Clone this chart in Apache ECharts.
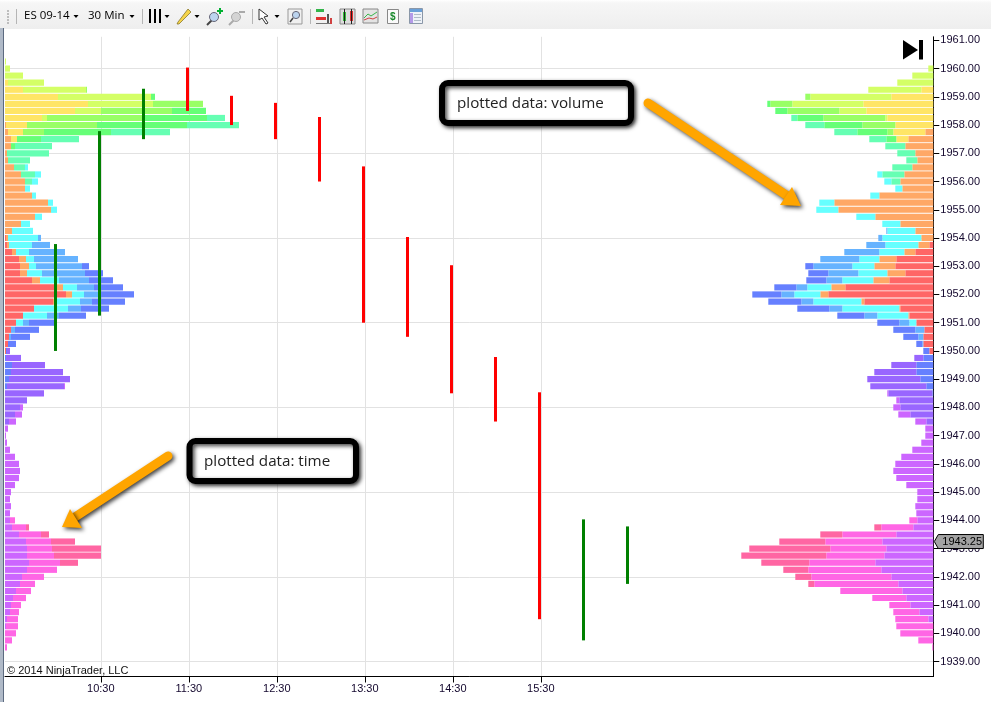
<!DOCTYPE html>
<html><head><meta charset="utf-8">
<style>html,body{margin:0;padding:0;background:#fff}#c{width:991px;height:702px}</style>
<script src="https://cdn.jsdelivr.net/npm/echarts@6/dist/echarts.min.js"></script>
</head><body><div id="c"></div>
<script>
// ---- price levels (0.25 tick) and axis ticks
const levelLow = 1938.5, levelHigh = 1961, tickSize = 0.25;
const priceTicks = [1939,1940,1941,1942,1943,1944,1945,1946,1947,1948,1949,1950,1951,1952,1953,1954,1955,1956,1957,1958,1959,1960,1961];
const priceGrid = [1939,1942,1945,1948,1951,1954,1957,1960];
const timeTicks = ['10:30','11:30','12:30','13:30','14:30','15:30'];
const lastPrice = 1943.25;

// ---- OHLC bars: time, high, low, direction
const barTimes = ['10:00','10:30','11:00','11:30','12:00','12:30','13:00','13:30','14:00','14:30','15:00','15:30','16:00','16:30'];
const barHighs = [1953.75,1957.75,1959.25,1960,1959,1958.75,1958.25,1956.5,1954,1953,1949.75,1948.5,1944,1943.75];
const barLows  = [1950,1951.25,1957.5,1958.5,1958,1957.5,1956,1951,1950.5,1948.5,1947.5,1940.5,1939.75,1941.75];
const barUp    = [1,1,1,0,0,0,0,0,0,0,0,0,1,1];

// ---- profile colours (stack order from the base outwards)
const colorNames = ['red','orange','yellow','lime','light','green','mint','cyan','blue','indigo','purple','magenta','pink','hot'];
const colorValues = ['#FF6666','#FFA866','#FFE566','#D4FF66','#99FF66','#66FF77','#66FFB3','#66FFFF','#66B3FF','#6680FF','#9966FF','#CC66FF','#FF66E5','#FF66A3'];

// ---- "plotted data: time" profile, [price, size]
const timeRed=[[1954,1],[1953.75,2],[1953.5,7],[1953.25,14],[1953,15],[1952.75,15],[1952.5,27],[1952.25,52],[1952,61],[1951.75,48],[1951.5,29],[1951.25,18],[1951,11],[1950.75,6],[1950.5,4],[1950.25,3],[1950,1]];
const timeOrange=[[1958,1],[1957.75,3],[1957.5,6],[1957.25,6],[1957,2],[1956.75,3],[1956.5,9],[1956.25,16],[1956,20],[1955.75,20],[1955.5,27],[1955.25,43],[1955,46],[1954.75,30],[1954.5,16],[1954.25,7],[1954,2],[1953.75,2],[1953.5,4],[1953.25,7],[1953,9],[1952.75,7],[1952.5,8],[1952.25,6],[1952,6],[1951.75,1]];
const timeYellow=[[1959.5,3],[1959.25,18],[1959,53],[1958.75,83],[1958.5,70],[1958.25,37],[1958,21],[1957.75,15],[1957.5,6]];
const timeLime=[[1960.25,1],[1960,5],[1959.75,18],[1959.5,36],[1959.25,63],[1959,93],[1958.75,65],[1958.5,26],[1958.25,5]];
const timeLight=[[1959.25,1],[1958.75,50],[1958.5,71],[1958.25,96],[1958,70],[1957.75,21]];
const timeGreen=[[1959,4],[1958.5,34],[1958.25,64],[1958,90],[1957.75,67],[1957.5,24],[1957.25,4]];
const timeMint=[[1958.25,18],[1958,52],[1957.75,59],[1957.5,38],[1957.25,37],[1957,42],[1956.75,22],[1956.5,11],[1956.25,14],[1956,7]];
const timeCyan=[[1956.5,3],[1956.25,6],[1956,6],[1955.75,5],[1955.5,4],[1955.25,5],[1955,6],[1954.75,7],[1954.5,9],[1954.25,21],[1954,30],[1953.75,23],[1953.5,13],[1953.25,8],[1953,7],[1952.75,15],[1952.5,19],[1952.25,14],[1952,12],[1951.75,26],[1951.5,34],[1951.25,24],[1951,7]];
const timeBlue=[[1954,3],[1953.75,18],[1953.5,36],[1953.25,44],[1953,46],[1952.75,43],[1952.5,30],[1952.25,17],[1952,17],[1951.75,12],[1951.5,13],[1951.25,12],[1951,6],[1950.75,4],[1950.5,2]];
const timeIndigo=[[1953,7],[1952.75,18],[1952.5,24],[1952.25,29],[1952,33],[1951.75,33],[1951.5,28],[1951.25,27],[1951,25],[1950.75,24],[1950.5,19],[1950.25,8],[1950,1],[1949.75,1],[1949.5,7],[1949.25,6],[1949,4],[1948.75,2]];
const timePurple=[[1950,3],[1949.75,15],[1949.5,33],[1949.25,52],[1949,61],[1948.75,57],[1948.5,39],[1948.25,22],[1948,15],[1947.75,10],[1947.5,4]];
const timeMagenta=[[1948.75,1],[1948,3],[1947.75,7],[1947.5,7],[1947.25,3],[1947,1],[1946.75,2],[1946.5,5],[1946.25,10],[1946,14],[1945.75,15],[1945.5,14],[1945.25,10],[1945,6],[1944.75,5],[1944.5,6],[1944.25,5],[1944,5],[1943.75,7],[1943.5,14],[1943.25,21],[1943,22],[1942.75,22],[1942.5,24],[1942.25,22],[1942,17],[1941.75,15],[1941.5,11],[1941.25,8],[1941,6],[1940.75,5],[1940.5,2],[1940.25,1]];
const timePink=[[1944,5],[1943.75,14],[1943.5,22],[1943.25,25],[1943,25],[1942.75,27],[1942.5,31],[1942.25,30],[1942,22],[1941.75,15],[1941.5,15],[1941.25,13],[1941,10],[1940.75,9],[1940.5,11],[1940.25,12],[1940,11],[1939.75,7],[1939.5,2]];
const timeHot=[[1943.75,3],[1943.5,8],[1943.25,24],[1943,49],[1942.75,47],[1942.5,18]];

// ---- "plotted data: volume" profile, [price, size]
const volRed=[[1953.75,4],[1953.5,18],[1953.25,37],[1953,38],[1952.75,28],[1952.5,44],[1952.25,88],[1952,105],[1951.75,69],[1951.5,33],[1951.25,24],[1951,17],[1950.75,9],[1950.5,10],[1950.25,10],[1950,4]];
const volOrange=[[1957.75,8],[1957.5,25],[1957.25,28],[1957,18],[1956.75,16],[1956.5,21],[1956.25,29],[1956,33],[1955.75,31],[1955.5,54],[1955.25,99],[1955,95],[1954.75,58],[1954.5,33],[1954.25,18],[1954,12],[1953.75,11],[1953.5,11],[1953.25,17],[1953,21],[1952.75,18],[1952.5,16],[1952.25,14],[1952,8],[1951.75,3],[1951.5,1],[1951.25,1]];
const volYellow=[[1959.25,12],[1959,42],[1958.75,70],[1958.5,67],[1958.25,46],[1958,38],[1957.75,32],[1957.5,12]];
const volLime=[[1960,5],[1959.75,21],[1959.5,36],[1959.25,53],[1959,81],[1958.75,71],[1958.5,27],[1958.25,2]];
const volLight=[[1959,5],[1958.75,22],[1958.5,52],[1958.25,62],[1958,33],[1957.75,6]];
const volGreen=[[1958.75,3],[1958.5,12],[1958.25,26],[1958,38],[1957.75,30],[1957.5,10]];
const volMint=[[1958.25,6],[1958,19],[1957.75,23],[1957.5,17],[1957.25,20],[1957,18],[1956.75,11],[1956.5,20],[1956.25,22],[1956,9]];
const volCyan=[[1956.25,5],[1956,7],[1955.75,7],[1955.5,9],[1955.25,15],[1955,22],[1954.75,19],[1954.5,18],[1954.25,28],[1954,39],[1953.75,33],[1953.5,25],[1953.25,20],[1953,22],[1952.75,29],[1952.5,31],[1952.25,24],[1952,26],[1951.75,48],[1951.5,57],[1951.25,31],[1951,7]];
const volBlue=[[1954.25,1],[1954,4],[1953.75,19],[1953.5,35],[1953.25,39],[1953,39],[1952.75,30],[1952.5,16],[1952.25,11],[1952,13],[1951.75,12],[1951.5,13],[1951.25,13],[1951,10],[1950.75,9],[1950.5,5],[1950.25,1]];
const volIndigo=[[1953,8],[1952.75,20],[1952.5,20],[1952.25,22],[1952,29],[1951.75,33],[1951.5,32],[1951.25,27],[1951,22],[1950.75,22],[1950.5,15],[1950.25,6],[1950,6],[1949.75,10],[1949.5,17],[1949.25,17],[1949,13],[1948.75,7],[1948.5,1]];
const volPurple=[[1949.75,9],[1949.5,25],[1949.25,42],[1949,53],[1948.75,56],[1948.5,44],[1948.25,34],[1948,33],[1947.75,23],[1947.5,7]];
const volMagenta=[[1948.5,1],[1948.25,3],[1948,7],[1947.75,12],[1947.5,11],[1947.25,8],[1947,8],[1946.75,12],[1946.5,21],[1946.25,32],[1946,38],[1945.75,40],[1945.5,37],[1945.25,27],[1945,16],[1944.75,16],[1944.5,18],[1944.25,17],[1944,16],[1943.75,20],[1943.5,37],[1943.25,51],[1943,47],[1942.75,49],[1942.5,58],[1942.25,52],[1942,42],[1941.75,35],[1941.5,31],[1941.25,27],[1941,23],[1940.75,14],[1940.5,5]];
const volPink=[[1944,8],[1943.75,32],[1943.5,54],[1943.25,57],[1943,56],[1942.75,58],[1942.5,66],[1942.25,73],[1942,80],[1941.75,84],[1941.5,62],[1941.25,34],[1941,21],[1940.75,26],[1940.5,33],[1940.25,37],[1940,33],[1939.75,15],[1939.5,1]];
const volHot=[[1943.75,7],[1943.5,22],[1943.25,46],[1943,81],[1942.75,85],[1942.5,48],[1942.25,25],[1942,16],[1941.75,6]];

const timeProfile = [timeRed,timeOrange,timeYellow,timeLime,timeLight,timeGreen,timeMint,timeCyan,timeBlue,timeIndigo,timePurple,timeMagenta,timePink,timeHot];
const volProfile = [volRed,volOrange,volYellow,volLime,volLight,volGreen,volMint,volCyan,volBlue,volIndigo,volPurple,volMagenta,volPink,volHot];

const levels = [];
for (let p = levelLow; p <= levelHigh; p += tickSize) levels.push(p);
const expand = pairs => { const m = new Map(pairs); return levels.map(p => m.has(p) ? m.get(p) : 0); };
const toMin = s => { const [h,m] = s.split(':').map(Number); return h*60+m; };
const fmtMin = v => { const h = Math.floor(v/60), m = v%60; return h+':'+String(m).padStart(2,'0'); };

// layout
const G = {left:5, top:36.8, width:928.3, height:642.4};
const pxPerMin = 44/30;
const tMin = 630 - 95.8/pxPerMin, tMax = tMin + G.width/pxPerMin;
const labelFont = {fontFamily:'Liberation Sans', fontSize:11, color:'#14082e'};

const series = [];
colorNames.forEach((n,i) => {
  series.push({name:'time-'+n, type:'bar', stack:'time', xAxisIndex:1, yAxisIndex:0, barWidth:6.2, barGap:'-100%', silent:true, animation:false,
    itemStyle:{color:colorValues[i]}, data:expand(timeProfile[i]), z:3});
  series.push({name:'vol-'+n, type:'bar', stack:'vol', xAxisIndex:2, yAxisIndex:0, barWidth:6.2, barGap:'-100%', silent:true, animation:false,
    itemStyle:{color:colorValues[i]}, data:expand(volProfile[i]), z:3});
});
series.push({name:'bars', type:'custom', xAxisIndex:0, yAxisIndex:1, z:6, animation:false, silent:true,
  encode:{x:0,y:[1,2]},
  data:barTimes.map((t,i)=>[toMin(t),barHighs[i],barLows[i],barUp[i]]),
  renderItem:(p,api)=>{
    const a = api.coord([api.value(0),api.value(1)]), b = api.coord([api.value(0),api.value(2)]);
    return {type:'rect', shape:{x:a[0]-2.8, y:a[1]-1, width:3, height:b[1]-a[1]+1},
      style:{fill: api.value(3) ? '#008000' : '#FF0000'}};
  }});
series.push({name:'last', type:'custom', xAxisIndex:0, yAxisIndex:1, z:8, clip:false, animation:false, silent:true,
  data:[[tMax,lastPrice]],
  renderItem:(p,api)=>{
    const c = api.coord([api.value(0),api.value(1)]), x=c[0]+1, y=c[1];
    return {type:'group', children:[
      {type:'polygon', shape:{points:[[x,y],[x+4,y-7],[x+49,y-7],[x+49,y+7],[x+4,y+7]]}, style:{fill:'#a3a3a3',stroke:'#000',lineWidth:1}},
      {type:'text', style:{x:x+8,y:y+.5,text:lastPrice.toFixed(2),fill:'#000',font:'11px "Liberation Sans"',textVerticalAlign:'middle'}}
    ]};
  }});

// ---- decoration
const g = [];
const rect=(x,y,w,h,fill,extra={})=>g.push({type:'rect',shape:{x,y,width:w,height:h,r:extra.r||0},style:{fill,stroke:extra.stroke,lineWidth:extra.lw||1},z:20,silent:true});
const line=(x1,y1,x2,y2,stroke,lw=1,cap='butt')=>g.push({type:'line',shape:{x1,y1,x2,y2},style:{stroke,lineWidth:lw,lineCap:cap},z:20,silent:true});
const poly=(pts,fill,extra={})=>g.push({type:'polygon',shape:{points:pts},style:Object.assign({fill},extra),z:20,silent:true});
const circ=(cx,cy,r,fill,stroke,lw=1)=>g.push({type:'circle',shape:{cx,cy,r},style:{fill,stroke,lineWidth:lw},z:20,silent:true});
const text=(x,y,t,font,fill)=>g.push({type:'text',x,y,style:{text:t,font,fill,textVerticalAlign:'middle'},z:21,silent:true});
const caret=(x)=>poly([[x-2.5,15],[x+2.5,15],[x,18]],'#000');

// white strip that trims the plot to the chart frame bottom
g.push({type:'rect',shape:{x:5,y:677,width:931,height:3},style:{fill:'#fff'},z:3,silent:true});

// toolbar
g.push({type:'rect',shape:{x:0,y:0,width:991,height:29},style:{fill:new echarts.graphic.LinearGradient(0,0,0,1,[{offset:0,color:'#ffffff'},{offset:.1,color:'#f6f6f6'},{offset:1,color:'#eeeeee'}])},z:19,silent:true});
[10,13,16,19,22].forEach(y=>rect(7,y,2,2,'#bdbdbd'));
[16.5,142.5,252.5,310.5].forEach(x=>line(x,9,x,24,'#b5b5b5'));
text(24,16,'ES 09-14','11.5px "Open Sans"','#000');
caret(76);
text(88,16,'30 Min','11.5px "Open Sans"','#000');
caret(132);
[150,155,160].forEach(x=>rect(x-1,9,2,14,'#000'));
caret(167);
poly([[178,22],[177,24],[179,24],[191,12],[188,9]],'#f6d44a',{stroke:'#7a6a20',lineWidth:.7});
caret(197);
const glass=(cx,cy,c)=>{line(cx-2,cy+3,cx-7,cy+8,c==='#aaa'?'#aaa':'#444',2);circ(cx,cy,4.5,c==='#aaa'?'#d4d4d4':'#bcd4ee',c,1);};
glass(214,17,'#667'); rect(217,10,6,2,'#00b030'); rect(219,8,2,6,'#00b030');
glass(236,17,'#aaa'); rect(239,11,6,2,'#aaa');
poly([[259,9],[268,16],[264,17],[268,23],[266,24],[262,18],[259,20]],'#fff',{stroke:'#333',lineWidth:1});
caret(277);
rect(288,9,14,15,'#f0f0f0',{stroke:'#999'}); circ(296,15,3.6,'#bcd4ee','#667'); line(293,18,290,22,'#444',1.5);
rect(316,9,8,3,'#33b54a'); rect(316,17,10,3,'#e03030'); rect(327,14,2,10,'#555'); rect(330,18,2,6,'#d04040'); rect(316,23,14,1,'#777');
rect(340,9,15,15,'#ddd',{stroke:'#888'}); rect(343,12,3,9,'#33c23a'); rect(350,11,3,10,'#e03030'); line(344.5,9,344.5,24,'#222'); line(351.5,9,351.5,24,'#222');
rect(363,9,15,14,'#e3e3e3',{stroke:'#888'}); g.push({type:'polyline',shape:{points:[[364,18],[368,14],[371,16],[377,12]]},style:{stroke:'#3ab54a',fill:'none'},z:21,silent:true}); g.push({type:'polyline',shape:{points:[[364,20],[369,18],[373,19],[377,17]]},style:{stroke:'#d04040',fill:'none'},z:21,silent:true});
rect(387.5,9.5,11,14,'#fafafa',{stroke:'#888'}); text(390,17,'$','bold 10px "Liberation Sans"','#1c8a2e');
rect(409.5,8.5,13,15,'#eef2f8',{stroke:'#8a97a8'}); rect(410,9,12,3,'#6aa0d8'); rect(410,13,3,10,'#b49ae8'); [14,17,20].forEach(y=>rect(414,y,7,1,'#b0bcc8'));

// left window edge
rect(0,28,3,674,'#b0bac8'); rect(3,28,1,674,'#5d6b80');

// go-to-end glyph
poly([[903,40],[918,50],[903,59.5]],'#000'); rect(919,40,4,19.5,'#000');

// copyright
text(7,670.5,'© 2014 NinjaTrader, LLC','11px "Liberation Sans"','#111');

// callouts
const shadow = {shadowColor:'rgba(0,0,0,.75)',shadowBlur:4,shadowOffsetX:2,shadowOffsetY:2};
const box=(x,y,w,h,t,tx)=>{
  g.push({type:'rect',shape:{x,y,width:w,height:h,r:6},style:Object.assign({fill:'#fff',stroke:'#000',lineWidth:6},shadow),z:22,silent:true});
  g.push({type:'text',x:tx,y:y+h/2+1,style:{text:t,font:'15.2px "Open Sans"',fill:'#222',textVerticalAlign:'middle'},z:23,silent:true});
};
box(442,83,189,40,'plotted data: volume',457);
box(189.5,441,166.5,40,'plotted data: time',204);
const arrow=(x1,y1,x2,y2,tip,a,b)=>{
  g.push({type:'line',shape:{x1,y1,x2,y2},style:Object.assign({stroke:'#FFA500',lineWidth:9,lineCap:'round'},shadow),z:22,silent:true});
  g.push({type:'polygon',shape:{points:[tip,a,b]},style:Object.assign({fill:'#FFA500'},shadow),z:22,silent:true});
};
arrow(648,103,789,197,[801,206],[792,187],[780,205]);
arrow(168,456,72,519,[62,527],[70,509],[82,528]);

const chart = echarts.init(document.getElementById('c'),null,{renderer:'canvas'});
chart.setOption({
  animation:false,
  backgroundColor:'#fff',
  grid:{left:G.left,top:G.top,width:G.width,height:G.height,containLabel:false},
  xAxis:[
    {type:'value',min:tMin,max:tMax,position:'bottom',offset:-2.7,z:5,
     axisLine:{show:true,onZero:false,lineStyle:{color:'#000',width:1}},
     axisTick:{show:true,length:6,lineStyle:{color:'#000'},customValues:timeTicks.map(toMin)},
     axisLabel:Object.assign({show:true,margin:7,customValues:timeTicks.map(toMin),formatter:v=>fmtMin(v)},labelFont),
     splitLine:{show:false}},
    {type:'value',min:0,max:G.width,show:false},
    {type:'value',min:0,max:G.width,inverse:true,show:false},
    {type:'value',min:tMin,max:tMax,z:1,
     axisLine:{show:false},
     axisTick:{show:false,customValues:timeTicks.map(toMin)},
     axisLabel:{show:false,customValues:timeTicks.map(toMin)},
     splitLine:{show:true,lineStyle:{color:'#e2e2e2',width:1}}}
  ],
  yAxis:[
    {type:'category',data:levels.map(String),show:false},
    {type:'value',min:levelLow-tickSize/2,max:levelHigh+tickSize/2,position:'right',z:1,
     axisLine:{show:true,onZero:false,lineStyle:{color:'#000',width:1}},
     axisTick:{show:true,length:6,lineStyle:{color:'#000'},customValues:priceTicks},
     axisLabel:Object.assign({show:true,margin:7,padding:[5,0,0,0],customValues:priceTicks,formatter:v=>v.toFixed(2)},labelFont),
     splitLine:{show:false}},
    {type:'value',min:levelLow-tickSize/2,max:levelHigh+tickSize/2,z:1,
     axisLine:{show:false},
     axisTick:{show:false,customValues:priceGrid},
     axisLabel:{show:false,customValues:priceGrid},
     splitLine:{show:true,lineStyle:{color:'#e2e2e2',width:1}}}
  ],
  series,
  graphic:{elements:g}
});
</script>
</body></html>
